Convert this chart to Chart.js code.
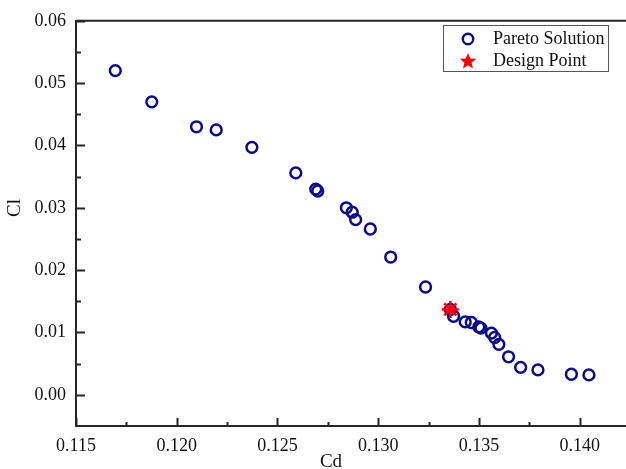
<!DOCTYPE html>
<html>
<head>
<meta charset="utf-8">
<script src="https://cdn.jsdelivr.net/npm/chart.js@4.4.1/dist/chart.umd.min.js"></script>
<style>
  html, body { margin: 0; padding: 0; background: #fff; overflow: hidden; }
</style>
</head>
<body>
<canvas id="pareto-chart" width="626" height="469"></canvas>
<script>
// Cd / Cl values
const paretoCd = [0.11695, 0.11876, 0.12098, 0.12196, 0.12373, 0.12591, 0.12690, 0.12700,
  0.12842, 0.12871, 0.12888, 0.12961, 0.13062, 0.13235, 0.13358, 0.13374, 0.13432, 0.13462,
  0.13499, 0.13510, 0.13562, 0.13578, 0.13599, 0.13647, 0.13707, 0.13793, 0.13959, 0.14046];
const paretoCl = [0.0520, 0.0470, 0.0430, 0.0425, 0.0397, 0.0356, 0.0330, 0.0327,
  0.0300, 0.0293, 0.0281, 0.0266, 0.0221, 0.0173, 0.0137, 0.0126, 0.0117, 0.0116,
  0.0109, 0.0107, 0.0099, 0.0092, 0.0081, 0.0061, 0.0044, 0.0040, 0.0033, 0.0032];
const designCd = [0.13358];
const designCl = [0.0137];

const xTicks = [0.115, 0.120, 0.125, 0.130, 0.135, 0.140];
const xMinorTicks = [0.1175, 0.1225, 0.1275, 0.1325, 0.1375];
const yTicks = [0.00, 0.01, 0.02, 0.03, 0.04, 0.05, 0.06];
const yMinorTicks = [0.005, 0.015, 0.025, 0.035, 0.045, 0.055];

const seriesNames = ['Pareto Solution', 'Design Point'];
const xTitle = 'Cd';
const yTitle = 'Cl';

const FONT = '"Liberation Serif", "Times New Roman", serif';
const AXIS_COLOR = '#262626';
const NAVY = '#0a0a8c';

const toPoints = (xs, ys) => xs.map((x, i) => ({ x: x, y: ys[i] }));

// inward ticks, top frame line, axis titles and the boxed legend
const framePlugin = {
  id: 'frame',
  afterDraw(chart) {
    const { ctx, chartArea, scales } = chart;
    const xs = scales.x;
    const ys = scales.y;
    ctx.save();
    ctx.strokeStyle = AXIS_COLOR;
    ctx.lineWidth = 2;
    ctx.beginPath();
    ctx.moveTo(chartArea.left, chartArea.top);
    ctx.lineTo(chartArea.right, chartArea.top);
    xTicks.forEach((v) => {
      const px = Math.round(xs.getPixelForValue(v)) + 0.5;
      ctx.moveTo(px, chartArea.bottom);
      ctx.lineTo(px, chartArea.bottom - 8);
    });
    xMinorTicks.forEach((v) => {
      const px = Math.round(xs.getPixelForValue(v)) + 0.5;
      ctx.moveTo(px, chartArea.bottom);
      ctx.lineTo(px, chartArea.bottom - 4);
    });
    yTicks.forEach((v) => {
      const py = Math.round(ys.getPixelForValue(v)) + 0.5;
      ctx.moveTo(chartArea.left, py);
      ctx.lineTo(chartArea.left + 9, py);
    });
    yMinorTicks.forEach((v) => {
      const py = Math.round(ys.getPixelForValue(v)) + 0.5;
      ctx.moveTo(chartArea.left, py);
      ctx.lineTo(chartArea.left + 5, py);
    });
    ctx.stroke();

    // axis titles
    ctx.fillStyle = '#111';
    ctx.font = '19px ' + FONT;
    ctx.textAlign = 'center';
    ctx.textBaseline = 'middle';
    ctx.fillText(xTitle, 331, 462);
    ctx.save();
    ctx.translate(15, 208);
    ctx.rotate(-Math.PI / 2);
    ctx.fillText(yTitle, 0, 0);
    ctx.restore();

    // legend box
    const bx = 443.5, by = 25.5, bw = 165, bh = 46;
    ctx.lineWidth = 1;
    ctx.strokeStyle = '#555';
    ctx.fillStyle = '#fff';
    ctx.fillRect(bx, by, bw, bh);
    ctx.strokeRect(bx, by, bw, bh);

    ctx.strokeStyle = NAVY;
    ctx.lineWidth = 2.5;
    ctx.beginPath();
    ctx.arc(468, 39, 5.2, 0, Math.PI * 2);
    ctx.stroke();

    ctx.fillStyle = '#ff0000';
    ctx.beginPath();
    for (let i = 0; i < 10; i++) {
      const r = i % 2 === 0 ? 8.5 : 3.8;
      const a = -Math.PI / 2 + i * Math.PI / 5;
      const px = 468 + r * Math.cos(a);
      const py = 61.5 + r * Math.sin(a);
      if (i === 0) ctx.moveTo(px, py); else ctx.lineTo(px, py);
    }
    ctx.closePath();
    ctx.fill();

    ctx.fillStyle = '#111';
    ctx.font = '18px ' + FONT;
    ctx.textBaseline = 'middle';
    ctx.textAlign = 'left';
    ctx.fillText(seriesNames[0], 493, 39.5);
    ctx.fillText(seriesNames[1], 493, 61);
    ctx.restore();
  },
};

const chartCanvas = document.getElementById('pareto-chart');
const paretoChart = new Chart(chartCanvas, {
  type: 'scatter',
  data: {
    datasets: [
      {
        label: seriesNames[0],
        data: toPoints(paretoCd, paretoCl),
        pointStyle: 'circle',
        pointRadius: 5.4,
        pointBorderWidth: 2.5,
        borderColor: NAVY,
        backgroundColor: 'rgba(0,0,0,0)',
        order: 2,
      },
      {
        label: seriesNames[1],
        data: toPoints(designCd, designCl),
        pointStyle: 'star',
        pointRadius: 8.5,
        pointBorderWidth: 2.5,
        borderColor: '#ff0000',
        backgroundColor: '#ff0000',
        order: 1,
      },
    ],
  },
  options: {
    responsive: false,
    animation: false,
    layout: {
      autoPadding: false,
      padding: { top: 17, right: 0, left: 0, bottom: 0 },
    },
    plugins: {
      legend: { display: false },
      tooltip: { enabled: false },
    },
    scales: {
      x: {
        type: 'linear',
        min: 0.115,
        max: 0.1423,
        afterBuildTicks(scale) {
          scale.ticks = xTicks.map((v) => ({ value: v }));
        },
        afterFit(scale) {
          scale.height = 43;
        },
        grid: { display: false, drawTicks: false },
        border: { display: true, color: AXIS_COLOR, width: 2 },
        ticks: {
          color: '#111',
          padding: 9,
          maxRotation: 0,
          font: { family: FONT, size: 18 },
          callback: (v) => Number(v).toFixed(3),
        },
      },
      y: {
        type: 'linear',
        min: -0.005,
        max: 0.06,
        afterBuildTicks(scale) {
          scale.ticks = yTicks.map((v) => ({ value: v }));
        },
        afterFit(scale) {
          scale.width = 76;
        },
        grid: { display: false, drawTicks: false },
        border: { display: true, color: AXIS_COLOR, width: 2 },
        ticks: {
          color: '#111',
          padding: 10,
          font: { family: FONT, size: 18 },
          callback: (v) => Number(v).toFixed(2),
        },
      },
    },
  },
  plugins: [framePlugin],
});
</script>
</body>
</html>
